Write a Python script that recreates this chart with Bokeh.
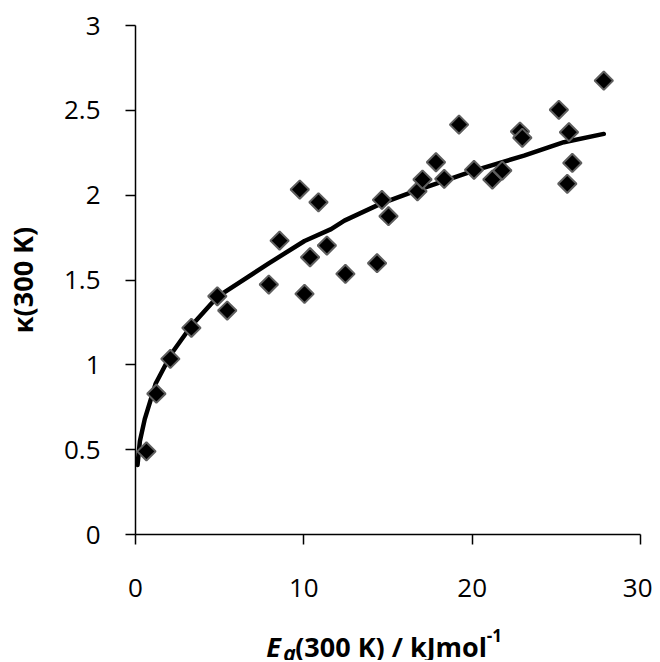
import math
from bokeh.plotting import figure
from bokeh.models import Range1d, FixedTicker, Label
from bokeh.layouts import column
from bokeh.embed import file_html
from bokeh.resources import INLINE

# ---- data ----
ea = [0.65, 1.24, 2.07, 3.32, 4.86, 5.45, 7.92, 8.56, 9.76, 10.04, 10.37, 10.87,
      11.37, 12.47, 14.35, 14.64, 15.03, 16.75, 17.05, 17.85, 18.34, 19.22, 20.11,
      21.20, 21.79, 22.84, 22.98, 25.15, 25.65, 25.75, 25.95, 27.82]
kappa = [0.49, 0.83, 1.035, 1.218, 1.404, 1.32, 1.473, 1.732, 2.033, 1.418, 1.634, 1.958,
         1.703, 1.536, 1.599, 1.972, 1.876, 2.023, 2.092, 2.194, 2.096, 2.416, 2.149,
         2.092, 2.145, 2.375, 2.338, 2.503, 2.067, 2.371, 2.19, 2.675]

fit_x = [0.12, 0.26, 0.55, 1.2, 2.13, 3.32, 4.86, 7.87, 10.04, 11.62, 12.41, 14.58,
         16.75, 20.11, 23.08, 25.45, 27.82]
fit_y = [0.41, 0.55, 0.68, 0.89, 1.065, 1.23, 1.40, 1.595, 1.73, 1.80, 1.85, 1.95,
         2.03, 2.145, 2.233, 2.312, 2.361]

x_ticks = [0, 10, 20, 30]
y_ticks = [0, 0.5, 1, 1.5, 2, 2.5, 3]
y_tick_labels = ["0", "0.5", "1", "1.5", "2", "2.5", "3"]
y_title = "κ(300 K)"

MAIN_W = 652
MAIN_H = 614
BOTTOM_H = 46
FRAME_LEFT = 134
FRAME_RIGHT = 640

# ---- main chart ----
p = figure(width=MAIN_W, height=MAIN_H, output_backend="svg", toolbar_location=None,
           x_range=Range1d(0, 30), y_range=Range1d(0, 3),
           min_border_left=FRAME_LEFT, min_border_right=MAIN_W - FRAME_RIGHT,
           min_border_top=25, min_border_bottom=80)
p.background_fill_color = "white"
p.border_fill_color = "white"
p.outline_line_color = None
p.grid.visible = False

for ax in (p.xaxis[0], p.yaxis[0]):
    ax.axis_line_color = "black"
    ax.axis_line_width = 1.5
    ax.major_tick_line_color = "black"
    ax.major_tick_line_width = 1.5
    ax.major_tick_out = 10
    ax.major_tick_in = 0
    ax.minor_tick_line_color = None
    ax.major_label_text_font = "Open Sans"
    ax.major_label_text_font_size = "26px"
    ax.major_label_text_color = "black"

p.xaxis[0].ticker = FixedTicker(ticks=x_ticks)
p.xaxis[0].major_label_standoff = 34
p.yaxis[0].ticker = FixedTicker(ticks=y_ticks)
p.yaxis[0].major_label_standoff = 25
p.yaxis[0].major_label_overrides = {t: s for t, s in zip(y_ticks, y_tick_labels)}

p.yaxis[0].axis_label = y_title
p.yaxis[0].axis_label_text_font = "Open Sans"
p.yaxis[0].axis_label_text_font_size = "27px"
p.yaxis[0].axis_label_text_font_style = "bold"
p.yaxis[0].axis_label_text_color = "black"
p.yaxis[0].axis_label_standoff = 20

p.line(fit_x, fit_y, line_color="black", line_width=4.5,
       line_join="round", line_cap="round")
p.scatter(ea, kappa, marker="square", size=13, angle=math.pi / 4,
          fill_color="black", line_color="#5f5f5f", line_width=2)

# ---- x title strip: its frame is aligned under the chart frame by the column,
#      so the ranges are chosen to make coordinates read as page pixels ----
bottom = figure(width=MAIN_W, height=BOTTOM_H, output_backend="svg",
                toolbar_location=None,
                x_range=Range1d(FRAME_LEFT, FRAME_RIGHT),
                y_range=Range1d(MAIN_H + BOTTOM_H, MAIN_H),
                x_axis_location=None, y_axis_location=None, min_border=0)
bottom.outline_line_color = None
bottom.grid.visible = False
bottom.background_fill_color = "white"
bottom.border_fill_color = "white"


def lab(fig, text, x, y, size, style):
    fig.add_layout(Label(x=x, y=y, text=text,
                         text_font="Open Sans", text_font_size=size,
                         text_font_style=style, text_color="black",
                         text_baseline="alphabetic", text_align="left"))


lab(bottom, "E", 265, 646, "27px", "bold italic")
lab(bottom, "a", 282, 652, "21px", "bold italic")
lab(bottom, "(300 K) / kJmol", 294, 646, "27px", "bold")
lab(bottom, "-1", 486, 635, "17px", "bold")

layout = column(p, bottom, spacing=0)

open("out.html", "w").write(file_html(layout, INLINE))
